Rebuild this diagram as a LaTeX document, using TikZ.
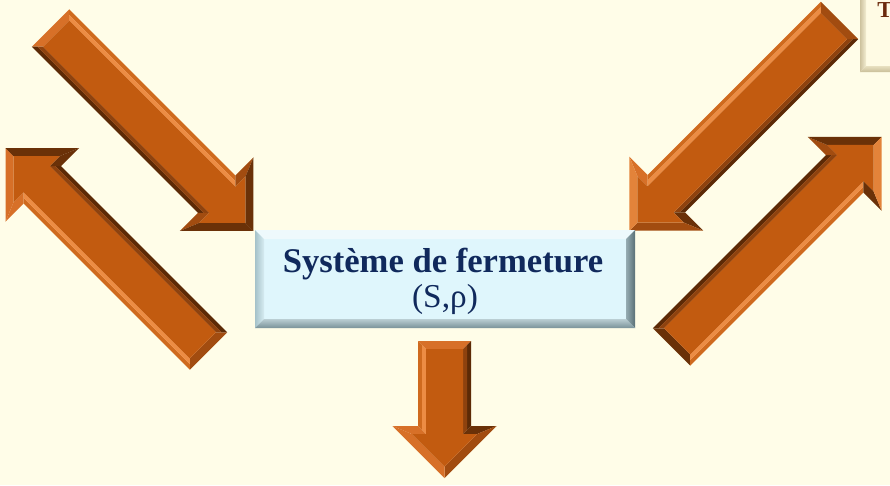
\documentclass[tikz,border=0pt]{standalone}
\usepackage{fontspec}
\setmainfont{Liberation Serif}
\definecolor{bg}{HTML}{FFFDE8}
\definecolor{navy}{HTML}{10295C}
\definecolor{OM}{HTML}{C25B10}
\definecolor{LI}{HTML}{EC8C44}
\definecolor{LO}{HTML}{CF6A1E}
\definecolor{DO}{HTML}{5C2A06}
\definecolor{DI}{HTML}{8E420E}
\definecolor{MD}{HTML}{A24C10}
\definecolor{ML}{HTML}{D77028}
\definecolor{DK}{HTML}{6A3108}
\definecolor{LL}{HTML}{E3833A}
\definecolor{tbrown}{HTML}{6B2A0C}
\definecolor{cream}{HTML}{FFFBE4}
\definecolor{boxface}{HTML}{DFF6FC}
\definecolor{boxtop}{HTML}{EEF9FC}
\newcommand\arcols[9]{%
  \colorlet{cTail}{#1}\colorlet{cPo}{#2}\colorlet{cPi}{#3}%
  \colorlet{cMo}{#4}\colorlet{cMi}{#5}\colorlet{cBp}{#6}%
  \colorlet{cBm}{#7}\colorlet{cSp}{#8}\colorlet{cSm}{#9}}
% #1,#2 tail centre, #3 angle, #4 length, #5 head length, #6 head half width
\newcommand\barrow[6]{%
\begin{scope}[shift={(#1,#2)},rotate=#3]
\pgfmathsetmacro\arL{#4}\pgfmathsetmacro\arh{#5}\pgfmathsetmacro\arH{#6}%
\pgfmathsetmacro\arw{26.5}\pgfmathsetmacro\ard{8}%
\pgfmathsetmacro\arLb{\arL-\arh}%
\pgfmathsetmacro\arS{sqrt(\arH*\arH+\arh*\arh)}%
\pgfmathsetmacro\arY{\arH-\ard*(\arH+\arS)/\arh}%
\pgfmathsetmacro\arut{\arL-\ard*\arS/\arH}%
\pgfmathsetmacro\arub{\arLb+\ard}%
\pgfmathsetmacro\arwi{\arw-\ard}%
\pgfmathsetmacro\arwm{\arw-\ard/2}%
\pgfmathsetmacro\arhd{\ard/2}%
\pgfmathsetmacro\arbm{\arLb+\ard/2}%
\fill[cTail] (0,-\arw) -- (0,\arw) -- (\ard,\arwi) -- (\ard,-\arwi) -- cycle;
\fill[cPo] (0,\arw) -- (\arLb,\arw) -- (\arbm,\arwm) -- (\arhd,\arwm) -- cycle;
\fill[cPi] (\arhd,\arwm) -- (\arbm,\arwm) -- (\arub,\arwi) -- (\ard,\arwi) -- cycle;
\fill[cMo] (0,-\arw) -- (\arLb,-\arw) -- (\arbm,-\arwm) -- (\arhd,-\arwm) -- cycle;
\fill[cMi] (\arhd,-\arwm) -- (\arbm,-\arwm) -- (\arub,-\arwi) -- (\ard,-\arwi) -- cycle;
\fill[cBp] (\arLb,\arw) -- (\arLb,\arH) -- (\arub,\arY) -- (\arub,\arwi) -- cycle;
\fill[cBm] (\arLb,-\arw) -- (\arLb,-\arH) -- (\arub,-\arY) -- (\arub,-\arwi) -- cycle;
\fill[cSp] (\arLb,\arH) -- (\arL,0) -- (\arut,0) -- (\arub,\arY) -- cycle;
\fill[cSm] (\arLb,-\arH) -- (\arL,0) -- (\arut,0) -- (\arub,-\arY) -- cycle;
\fill[OM] (\ard,-\arwi) -- (\arub,-\arwi) -- (\arub,-\arY) -- (\arut,0)
  -- (\arub,\arY) -- (\arub,\arwi) -- (\ard,\arwi) -- cycle;
\end{scope}}
\begin{document}
\begin{tikzpicture}[x=0.02cm,y=0.02cm,
  maintext/.style={text=navy,inner sep=0pt,font=\fontsize{19.7}{22.7}\selectfont}]
\useasboundingbox (0,0) rectangle (890,485);
\fill[bg] (0,0) rectangle (890,485);
% top-right box (cut by the frame)
\begin{scope}
\clip (0,0) rectangle (890,485);
\fill[cream] (860,413) rectangle (900,490);
\shade[left color={rgb,255:red,205;green,194;blue,158},right color={rgb,255:red,243;green,237;blue,210}]
  (860,413) -- (860,490) -- (866,490) -- (866,419) -- cycle;
\shade[top color={rgb,255:red,232;green,224;blue,192},bottom color={rgb,255:red,201;green,190;blue,152}]
  (860,413) -- (900,413) -- (900,419) -- (866,419) -- cycle;
\node[anchor=base west,inner sep=0pt,text=tbrown,font=\bfseries\fontsize{13}{15}\selectfont] (tlabel) at (877,468) {T};
\end{scope}
% arrows
\arcols{ML}{LO}{LI}{DO}{DI}{MD}{MD}{DK}{DK}
\barrow{50.5}{457}{-45}{287}{52}{52}
\arcols{MD}{LO}{LI}{DO}{DI}{ML}{DK}{ML}{DK}
\barrow{208.5}{134}{135}{287}{52}{52}
\arcols{MD}{DO}{DI}{LO}{LI}{DK}{ML}{MD}{LL}
\barrow{839.5}{464.5}{-135}{297}{52}{52}
\arcols{DK}{DO}{DI}{LO}{LI}{MD}{DK}{DK}{LL}
\barrow{671.5}{138}{45}{297}{52}{52}
\arcols{ML}{DO}{DI}{LO}{LI}{DK}{ML}{MD}{ML}
\barrow{444.5}{144}{-90}{137}{52}{52}
% centre box
\fill[boxface] (255,157) rectangle (635,255);
\fill[boxtop] (255,255) -- (635,255) -- (626,246) -- (264,246) -- cycle;
\shade[left color={rgb,255:red,165;green,194;blue,201},right color={rgb,255:red,215;green,236;blue,241}]
  (255,157) -- (255,255) -- (264,246) -- (264,166) -- cycle;
\shade[left color={rgb,255:red,150;green,172;blue,178},right color={rgb,255:red,90;green,112;blue,118}]
  (635,157) -- (635,255) -- (626,246) -- (626,166) -- cycle;
\shade[top color={rgb,255:red,186;green,206;blue,211},bottom color={rgb,255:red,122;green,146;blue,152}]
  (255,157) -- (635,157) -- (626,166) -- (264,166) -- cycle;
\node[maintext,anchor=base,font=\bfseries\fontsize{19.7}{22.7}\selectfont] (sys) at (443,213) {Système de fermeture};
\node[maintext,anchor=base,font=\fontsize{19}{22}\selectfont] (pair) at (445,178) {(S,ρ)};
\end{tikzpicture}
\end{document}
